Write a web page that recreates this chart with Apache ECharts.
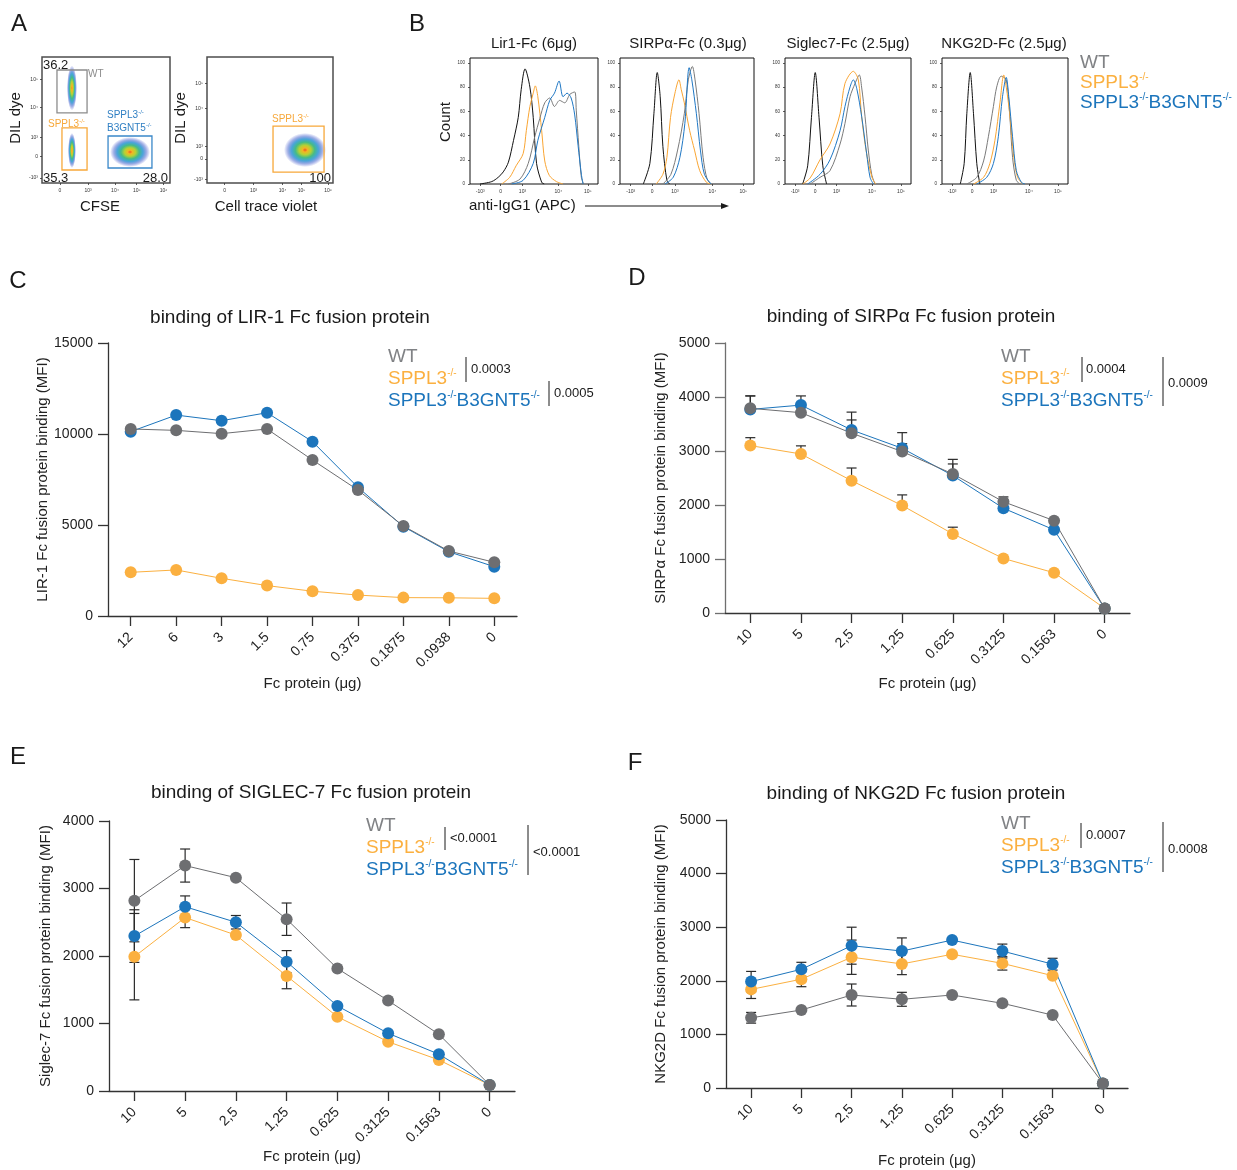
<!DOCTYPE html>
<html><head><meta charset="utf-8">
<script src="https://cdn.jsdelivr.net/npm/echarts@6/dist/echarts.min.js"></script>
<style>html,body{margin:0;padding:0;background:#fff}#main{width:1237px;height:1170px}</style>
</head><body><div id="main"></div>
<script>
// ================= DATA =================
// Panel C
const catsC = ['12','6','3','1.5','0.75','0.375','0.1875','0.0938','0'];
const wtC  = [10275,10200,10020,10275,8570,6920,4945,3570,2950];
const koC  = [2400,2530,2070,1670,1360,1150,1010,1000,970];
const dkoC = [10130,11040,10730,11170,9580,7070,4910,3530,2710];
// Panel D
const catsD = ['10','5','2,5','1,25','0.625','0.3125','0.1563','0'];
const wtD  = [3790,3710,3330,2990,2575,2060,1710,85];
const koD  = [3100,2945,2450,1990,1465,1010,745,85];
const dkoD = [3770,3850,3390,3050,2545,1940,1540,85];
const wtDErr  = [230,100,245,145,185,90,0,0];
const koDErr  = [147,150,235,197,124,0,0,0];
const dkoDErr = [250,170,330,290,300,0,0,0];
// Panel E
const catsE = ['10','5','2,5','1,25','0.625','0.3125','0.1563','0'];
const wtE  = [2820,3340,3160,2545,1815,1340,840,90];
const koE  = [1990,2570,2310,1705,1100,730,460,90];
const dkoE = [2295,2730,2500,1915,1260,855,545,90];
const wtEErr  = [610,245,0,240,0,0,0,0];
const koEErr  = [640,150,0,190,0,0,0,0];
const dkoEErr = [390,160,100,165,0,0,0,0];
// Panel F
const catsF = ['10','5','2,5','1,25','0.625','0.3125','0.1563','0'];
const wtF  = [1310,1455,1735,1655,1735,1580,1360,85];
const koF  = [1840,2030,2440,2315,2495,2325,2095,85];
const dkoF = [1985,2215,2655,2555,2760,2555,2310,85];
const wtFErr  = [100,0,205,130,0,0,0,0];
const koFErr  = [170,140,320,200,0,125,0,0];
const dkoFErr = [190,130,345,245,0,130,110,0];

// Panel B histograms (x in display units 0-100 of biexponential axis, y = % of max count)
const histXTicks = [8,24,41,69,92];
const histXLabels = ['-10³','0','10³','10⁴','10⁵'];
const histYTicks = [0,20,40,60,80,100];
const lir1Black  = [[7.8,0],[17,2],[22,5.5],[26,10],[30,18],[34,36],[37.7,55],[40,78],[43,95],[46.8,80],[49.4,55],[52,17],[56,1.4],[58,0]];
const lir1Orange = [[24.7,0],[31,5.5],[36,15],[41.5,25],[44,44],[46.8,64],[49.4,75],[51,81],[53,72],[56,44],[58.4,19],[62,7],[67.5,2],[72.7,0]];
const lir1Grey   = [[30,0],[39,4],[45.5,17],[50.6,39],[54.5,54],[58.4,67],[62.3,71],[66,64],[70,69],[74,67],[78,74],[81.8,76],[83,61],[85,31],[87,5.5],[88.8,0]];
const lir1Blue   = [[32.5,0],[41.5,3],[49.4,17],[53,36],[58.4,55],[62.3,69],[66,75],[69.6,85],[72.7,72],[75.8,75],[79,71],[81.8,57],[84.4,32],[87,8],[88.3,0]];
const sirpBlack  = [[17.4,0],[22.3,17],[25.3,58],[27.8,92],[30,72],[32,31],[35,3],[37,0]];
const sirpOrange = [[27,0],[32,8],[35,22],[37.7,55],[41,75],[44,86],[45.7,78],[48,67],[52,44],[55.6,28],[59.5,11],[64.5,1.4],[68,0]];
const sirpGrey   = [[32,0],[38,8],[43,28],[48,58],[51,86],[54,97],[56,86],[59,58],[62,22],[65,4],[68,0]];
const sirpBlue   = [[33.5,0],[39.7,5.5],[44.7,22],[48.4,50],[51.6,96],[53.6,86],[57,58],[60,28],[63,8],[68,0]];
const sigBlack   = [[14,0],[18,15],[21,55],[24,92],[27,55],[30,15],[33,0]];
const sigOrange  = [[14,0],[20,5],[27.8,20],[35.7,33],[43.7,58],[47.6,83],[54.2,93],[58.2,86],[60.8,56],[64.3,28],[69,5.5],[72,0]];
const sigGrey    = [[20,0],[27.8,5.5],[35.7,11],[43.7,33],[47.6,50],[51.6,72],[55.6,83],[59,90],[60.8,80],[63.5,56],[66.1,28],[68.8,8],[71.4,0]];
const sigBlue    = [[18,0],[27.8,8],[35.7,20],[43.7,44],[47.6,64],[51.6,80],[54.2,86],[56.9,79],[60.8,56],[64.8,25],[67.5,5.5],[70.1,0]];
const nkgBlack   = [[14.5,0],[17.6,17],[19.7,58],[22.4,92],[25,58],[27.6,17],[30,0]];
const nkgGrey    = [[19.7,0],[27.6,5.5],[33,19],[36.8,39],[40.8,64],[43.4,80],[47,89],[51,86],[53.7,58],[56,22],[59,3],[62,0]];
const nkgOrange  = [[25,0],[33,5.5],[38,17],[42,36],[46,67],[49,90],[51,80],[53.7,58],[57,22],[60,5.5],[64,0]];
const nkgBlue    = [[27.6,0],[35.5,5.5],[40.8,17],[44.7,39],[48,72],[51,88],[53,72],[56,39],[59,11],[63,1.4],[65.8,0]];

// Panel A flow plots (display units 0-100)
const flowXLabels = ['0','10³','10⁴','10⁵','10⁶'];
const flowYLabels = ['-10³','0','10³','10⁴','10⁵'];
const flow1XTicks = [14,36,57,74,95];
const flow1YTicks = [4,21,36,60,82];
const flow2XTicks = [14,37,60,75,96];
const flow2YTicks = [3,19,29,59,79];
// populations: [centerX, centerY, spreadX, spreadY]
const flow1Pops = [[23.4,75.4,3.9,17.9],[23.4,25.8,3.1,13.9],[68.8,24.6,15.6,11.9]];
const flow2Pops = [[77.8,26.2,16.7,13.5]];
// gates: [x1, y1, x2, y2]
const flow1Gates = [[11.7,55.6,35.2,89.7],[15.6,10.3,35.2,43.7],[51.6,11.9,85.9,37.3]];
const flow2Gates = [[52.4,8.7,92.9,45.2]];

// ================= STYLE =================
const FONT = "'Liberation Sans', Arial, Helvetica, sans-serif";
const C_WT = '#6d6e71', C_KO = '#fbb040', C_DKO = '#1c75bc';
const LEG_WT = '#808285';
const AX = '#333333';
const ERR = '#2a2a2a';

const grids = [], xAxes = [], yAxes = [], series = [], graphics = [];

function txt(x, y, text, o) {
  o = o || {};
  const al = o.align || 'left', va = o.va || 'middle';
  graphics.push({type: 'text', x: x, y: y, rotation: o.rot || 0, silent: true, z: 100,
    style: {text: text, fill: o.color || '#1a1a1a', fontSize: o.size || 14, fontFamily: FONT,
      textAlign: al, textVerticalAlign: va, align: al, verticalAlign: va, rich: o.rich}});
}
function supRich(size, color) {
  return {
    n: {fontSize: size, lineHeight: Math.round(size * 1.15), fontFamily: FONT, fill: color},
    s: {fontSize: Math.max(4, Math.round(size * 0.55)), lineHeight: Math.round(size * 0.62), verticalAlign: 'top', fontFamily: FONT, fill: color}
  };
}
function line(x1, y1, x2, y2, w, c) {
  graphics.push({type: 'line', silent: true, z: 100, shape: {x1: x1, y1: y1, x2: x2, y2: y2}, style: {stroke: c || '#1a1a1a', lineWidth: w || 1}});
}
const legendTexts = ['{n|WT}', '{n|SPPL3}{s|-/-}', '{n|SPPL3}{s|-/-}{n|B3GNT5}{s|-/-}'];
function legend(x, y0, dy, size) {
  const cols = [LEG_WT, C_KO, C_DKO];
  legendTexts.forEach((t, i) => txt(x, y0 + i * dy, t, {rich: supRich(size, cols[i]), color: cols[i], size: size}));
}

// ---------- Flow panels ----------
const densityGrad = new echarts.graphic.RadialGradient(0.5, 0.5, 0.5, [
  {offset: 0, color: '#ee5a20'}, {offset: 0.12, color: '#f2b624'}, {offset: 0.28, color: '#b5d234'},
  {offset: 0.46, color: '#45bb86'}, {offset: 0.64, color: 'rgba(40,150,210,0.85)'}, {offset: 0.82, color: 'rgba(45,80,200,0.45)'},
  {offset: 1, color: 'rgba(40,60,200,0)'}]);
const gateColorsA1 = ['#8c8c8c', '#f7a83a', '#3a88c9'];
const gateColorsA2 = ['#f7a83a'];

function flowPanel(box, tx, ty, pops, gates, gateColors) {
  const gi = grids.length;
  grids.push({left: box[0], top: box[1], width: box[2], height: box[3], show: true, borderColor: '#4d4d4d', borderWidth: 1.5, backgroundColor: '#fff'});
  xAxes.push({gridIndex: gi, type: 'value', min: 0, max: 100, splitLine: {show: false}, axisLine: {show: false},
    axisTick: {show: true, customValues: tx, length: 2, inside: false, lineStyle: {color: '#333', width: 0.8}},
    axisLabel: {show: true, customValues: tx, formatter: v => flowXLabels[tx.indexOf(v)], fontSize: 5, color: '#333', margin: 5, fontFamily: FONT}});
  yAxes.push({gridIndex: gi, type: 'value', min: 0, max: 100, splitLine: {show: false}, axisLine: {show: false},
    axisTick: {show: true, customValues: ty, length: 2, lineStyle: {color: '#333', width: 0.8}},
    axisLabel: {show: true, customValues: ty, formatter: v => flowYLabels[ty.indexOf(v)], fontSize: 5, color: '#333', margin: 4, fontFamily: FONT}});
  series.push({type: 'custom', xAxisIndex: gi, yAxisIndex: gi, silent: true, z: 2, data: pops,
    renderItem: (params, api) => {
      const c = api.coord([api.value(0), api.value(1)]);
      const s = api.size([api.value(2), api.value(3)]);
      return {type: 'circle', x: c[0], y: c[1], scaleY: s[1] / s[0], shape: {cx: 0, cy: 0, r: s[0]}, style: {fill: densityGrad}};
    }});
  series.push({type: 'custom', xAxisIndex: gi, yAxisIndex: gi, silent: true, z: 3, data: gates,
    renderItem: (params, api) => {
      const p1 = api.coord([api.value(0), api.value(1)]);
      const p2 = api.coord([api.value(2), api.value(3)]);
      return {type: 'rect', shape: {x: Math.min(p1[0], p2[0]), y: Math.min(p1[1], p2[1]), width: Math.abs(p2[0] - p1[0]), height: Math.abs(p2[1] - p1[1])},
        style: {fill: 'none', stroke: gateColors[params.dataIndex], lineWidth: 1.3}};
    }});
}
flowPanel([42, 57, 128, 126], flow1XTicks, flow1YTicks, flow1Pops, flow1Gates, gateColorsA1);
flowPanel([207, 57, 126, 126], flow2XTicks, flow2YTicks, flow2Pops, flow2Gates, gateColorsA2);

// ---------- Histogram panels ----------
const HC = {black: '#111111', orange: '#f9a533', grey: '#7a7a7a', blue: '#1f77c4'};
function histPanel(box, curves) {
  const gi = grids.length;
  grids.push({left: box[0], top: box[1], width: box[2], height: box[3], show: true, borderColor: '#111', borderWidth: 1, backgroundColor: '#fff'});
  xAxes.push({gridIndex: gi, type: 'value', min: 0, max: 100, splitLine: {show: false}, axisLine: {show: false},
    axisTick: {show: true, customValues: histXTicks, length: 2, lineStyle: {color: '#333', width: 0.8}},
    axisLabel: {show: true, customValues: histXTicks, formatter: v => histXLabels[histXTicks.indexOf(v)], fontSize: 5, color: '#333', margin: 5, fontFamily: FONT}});
  yAxes.push({gridIndex: gi, type: 'value', min: 0, max: 104, splitLine: {show: false}, axisLine: {show: false},
    axisTick: {show: true, customValues: histYTicks, length: 2, lineStyle: {color: '#333', width: 0.8}},
    axisLabel: {show: true, customValues: histYTicks, fontSize: 4.5, color: '#333', margin: 5, fontFamily: FONT}});
  curves.forEach(cv => {
    series.push({type: 'line', xAxisIndex: gi, yAxisIndex: gi, data: cv[1], smooth: 0.3, symbol: 'none', silent: true,
      lineStyle: {color: HC[cv[0]], width: 1}, z: 2});
  });
}
histPanel([470, 58, 128, 126], [['black', lir1Black], ['orange', lir1Orange], ['grey', lir1Grey], ['blue', lir1Blue]]);
histPanel([620, 58, 134, 126], [['black', sirpBlack], ['orange', sirpOrange], ['grey', sirpGrey], ['blue', sirpBlue]]);
histPanel([785, 58, 126, 126], [['black', sigBlack], ['grey', sigGrey], ['orange', sigOrange], ['blue', sigBlue]]);
histPanel([942, 58, 126, 126], [['black', nkgBlack], ['grey', nkgGrey], ['orange', nkgOrange], ['blue', nkgBlue]]);

// ---------- Line chart panels ----------
function linePanel(cfg) {
  const gi = grids.length;
  grids.push({left: cfg.box[0], top: cfg.box[1], width: cfg.box[2], height: cfg.box[3]});
  xAxes.push({gridIndex: gi, type: 'category', data: cfg.cats, boundaryGap: true,
    axisLine: {show: true, lineStyle: {color: AX, width: 1.3}},
    axisTick: {show: true, alignWithLabel: true, length: 10, lineStyle: {color: AX, width: 1.3}},
    axisLabel: {rotate: 45, fontSize: 14, color: '#222', margin: 19, fontFamily: FONT, interval: 0},
    name: 'Fc protein (μg)', nameLocation: 'middle', nameGap: cfg.xGap,
    nameTextStyle: {fontSize: 15, color: '#222', fontFamily: FONT}});
  yAxes.push({gridIndex: gi, type: 'value', min: 0, max: cfg.yMax, interval: cfg.yInt, splitLine: {show: false},
    axisLine: {show: true, lineStyle: {color: cfg.yAxisColor || AX, width: 1.3}},
    axisTick: {show: true, length: 10, lineStyle: {color: cfg.yAxisColor || AX, width: 1.3}},
    axisLabel: {fontSize: 14, color: '#222', margin: 15, fontFamily: FONT, formatter: v => String(v)},
    name: cfg.yName, nameLocation: 'middle', nameGap: cfg.yGap, nameRotate: 90,
    nameTextStyle: {fontSize: 15, color: '#222', fontFamily: FONT}});
  const sets = [[cfg.ko, cfg.koErr, C_KO], [cfg.dko, cfg.dkoErr, C_DKO], [cfg.wt, cfg.wtErr, C_WT]];
  sets.forEach(s => {
    if (s[1]) {
      series.push({type: 'custom', xAxisIndex: gi, yAxisIndex: gi, silent: true, z: 1,
        data: s[0].map((v, i) => [i, v, s[1][i]]),
        renderItem: (params, api) => {
          const i = api.value(0), v = api.value(1), e = api.value(2);
          if (!e) return null;
          const top = api.coord([i, v + e]);
          const bot = api.coord([i, cfg.upperOnly ? v : v - e]);
          const hw = 5, st = {stroke: ERR, lineWidth: 1.2};
          const ch = [
            {type: 'line', shape: {x1: top[0], y1: top[1], x2: bot[0], y2: bot[1]}, style: st},
            {type: 'line', shape: {x1: top[0] - hw, y1: top[1], x2: top[0] + hw, y2: top[1]}, style: st}];
          if (!cfg.upperOnly) ch.push({type: 'line', shape: {x1: bot[0] - hw, y1: bot[1], x2: bot[0] + hw, y2: bot[1]}, style: st});
          return {type: 'group', children: ch};
        }});
    }
  });
  sets.forEach(s => {
    series.push({type: 'line', xAxisIndex: gi, yAxisIndex: gi, data: s[0], symbol: 'circle', symbolSize: 12, silent: true,
      itemStyle: {color: s[2]}, lineStyle: {color: s[2], width: 1}, z: 3});
  });
}
linePanel({box: [108, 343, 409, 273], cats: catsC, wt: wtC, ko: koC, dko: dkoC, yMax: 15000, yInt: 5000,
  yName: 'LIR-1 Fc fusion protein binding (MFI)', yGap: 55, xGap: 60});
linePanel({box: [725, 343, 405, 270], cats: catsD, wt: wtD, ko: koD, dko: dkoD, wtErr: wtDErr, koErr: koDErr, dkoErr: dkoDErr, upperOnly: true,
  yMax: 5000, yInt: 1000, yName: 'SIRPα Fc fusion protein binding (MFI)', yGap: 57, xGap: 63, yAxisColor: '#6f6f6f'});
linePanel({box: [109, 821, 406, 270], cats: catsE, wt: wtE, ko: koE, dko: dkoE, wtErr: wtEErr, koErr: koEErr, dkoErr: dkoEErr,
  yMax: 4000, yInt: 1000, yName: 'Siglec-7 Fc fusion protein binding (MFI)', yGap: 56, xGap: 58});
linePanel({box: [726, 820, 402, 268], cats: catsF, wt: wtF, ko: koF, dko: dkoF, wtErr: wtFErr, koErr: koFErr, dkoErr: dkoFErr,
  yMax: 5000, yInt: 1000, yName: 'NKG2D Fc fusion protein binding (MFI)', yGap: 58, xGap: 65});

// ---------- Texts ----------
// panel letters
[['A', 19, 24], ['B', 417, 24], ['C', 18, 281], ['D', 637, 278], ['E', 18, 757], ['F', 635, 763]].forEach(p =>
  txt(p[1], p[2], p[0], {size: 24, align: 'center', color: '#1a1a1a'}));

// Panel A
txt(16, 118, 'DIL dye', {size: 15, align: 'center', rot: Math.PI / 2});
txt(181, 118, 'DIL dye', {size: 15, align: 'center', rot: Math.PI / 2});
txt(100, 207, 'CFSE', {size: 15, align: 'center'});
txt(266, 207, 'Cell trace violet', {size: 15, align: 'center'});
txt(43, 65, '36.2', {size: 13});
txt(43, 178, '35.3', {size: 13});
txt(168, 178, '28.0', {size: 13, align: 'right'});
txt(331, 178, '100', {size: 13, align: 'right'});
txt(88, 74, 'WT', {size: 10, color: '#8c8c8c'});
txt(48, 124, '{n|SPPL3}{s|-/-}', {size: 10, rich: supRich(10, '#f7a83a')});
txt(107, 115, '{n|SPPL3}{s|-/-}', {size: 10, rich: supRich(10, '#2f7fc3')});
txt(107, 128, '{n|B3GNT5}{s|-/-}', {size: 10, rich: supRich(10, '#2f7fc3')});
txt(272, 119, '{n|SPPL3}{s|-/-}', {size: 10, rich: supRich(10, '#f7a83a')});

// Panel B
txt(534, 44, 'Lir1-Fc (6μg)', {size: 15, align: 'center'});
txt(688, 44, 'SIRPα-Fc (0.3μg)', {size: 15, align: 'center'});
txt(848, 44, 'Siglec7-Fc (2.5μg)', {size: 15, align: 'center'});
txt(1004, 44, 'NKG2D-Fc (2.5μg)', {size: 15, align: 'center'});
txt(446, 122, 'Count', {size: 15, align: 'center', rot: Math.PI / 2});
txt(469, 206, 'anti-IgG1 (APC)', {size: 15});
line(585, 206, 723, 206, 1.2);
graphics.push({type: 'polygon', silent: true, z: 100, shape: {points: [[729, 206], [721, 203], [721, 209]]}, style: {fill: '#1a1a1a'}});
legend(1080, 63, 20, 19);

// Titles
txt(290, 318, 'binding of LIR-1 Fc fusion protein', {size: 19, align: 'center'});
txt(911, 317, 'binding of SIRPα Fc fusion protein', {size: 19, align: 'center'});
txt(311, 793, 'binding of SIGLEC-7 Fc fusion protein', {size: 19, align: 'center'});
txt(916, 794, 'binding of NKG2D Fc fusion protein', {size: 19, align: 'center'});

// Legends + p-values
legend(388, 357, 22, 19);
line(466, 357, 466, 382); txt(471, 369, '0.0003', {size: 13});
line(549, 381, 549, 406); txt(554, 393, '0.0005', {size: 13});
legend(1001, 357, 22, 19);
line(1082, 357, 1082, 382); txt(1086, 369, '0.0004', {size: 13});
line(1163, 357, 1163, 406); txt(1168, 383, '0.0009', {size: 13});
legend(366, 826, 22, 19);
line(445, 827, 445, 850); txt(450, 838, '<0.0001', {size: 13});
line(528, 825, 528, 875); txt(533, 852, '<0.0001', {size: 13});
legend(1001, 824, 22, 19);
line(1081, 823, 1081, 848); txt(1086, 835, '0.0007', {size: 13});
line(1163, 822, 1163, 872); txt(1168, 849, '0.0008', {size: 13});

const chart = echarts.init(document.getElementById('main'), null, {renderer: 'canvas'});
chart.setOption({
  animation: false, backgroundColor: '#fff', textStyle: {fontFamily: FONT},
  grid: grids, xAxis: xAxes, yAxis: yAxes, series: series, graphic: graphics
});
</script></body></html>
